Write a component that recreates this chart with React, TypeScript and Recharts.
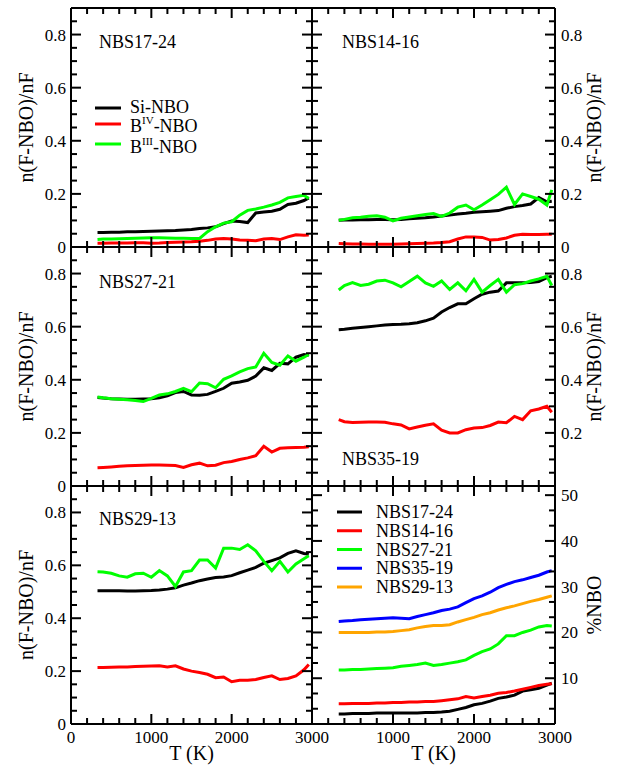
import React from 'react';
import { Line, LineChart, XAxis, YAxis } from 'recharts';

// temperatures (K) at which the curves were read
const TEMPS = [330, 400, 500, 600, 700, 800, 900, 1000, 1100, 1200, 1300, 1400, 1500, 1600, 1700, 1800, 1900, 2000, 2100, 2200, 2300, 2400, 2500, 2600, 2700, 2800, 2900, 2960];

const X_TICKS = [0, 200, 400, 600, 800, 1000, 1200, 1400, 1600, 1800, 2000, 2200, 2400, 2600, 2800, 3000];
const X_LABELS = [0, 1000, 2000, 3000];
const FRAC_TICKS = [0, 0.05, 0.1, 0.15, 0.2, 0.25, 0.3, 0.35, 0.4, 0.45, 0.5, 0.55, 0.6, 0.65, 0.7, 0.75, 0.8, 0.85, 0.9];
const FRAC_LABELS = [0, 0.2, 0.4, 0.6, 0.8];
const PCT_TICKS = [0, 10 / 3, 20 / 3, 10, 40 / 3, 50 / 3, 20, 70 / 3, 80 / 3, 30, 100 / 3, 110 / 3, 40, 130 / 3, 140 / 3, 50];
const PCT_LABELS = [10, 20, 30, 40, 50];

const FRACTION_NAMES = ['Si-NBO', 'B^IV-NBO', 'B^III-NBO'];
const FRACTION_COLORS = ['#000000', '#ff0000', '#00ff00'];

// NBS17-24
const s1724Si = [0.055, 0.055, 0.056, 0.056, 0.057, 0.057, 0.058, 0.059, 0.06, 0.061, 0.062, 0.064, 0.066, 0.07, 0.072, 0.076, 0.088, 0.098, 0.096, 0.092, 0.128, 0.132, 0.135, 0.142, 0.16, 0.165, 0.175, 0.185];
const s1724B4 = [0.014, 0.014, 0.015, 0.015, 0.015, 0.016, 0.016, 0.014, 0.015, 0.017, 0.018, 0.019, 0.02, 0.022, 0.025, 0.03, 0.032, 0.03, 0.026, 0.025, 0.024, 0.03, 0.032, 0.028, 0.038, 0.046, 0.044, 0.045];
const s1724B3 = [0.028, 0.03, 0.03, 0.031, 0.032, 0.033, 0.034, 0.035, 0.035, 0.034, 0.033, 0.033, 0.032, 0.032, 0.058, 0.076, 0.09, 0.095, 0.12, 0.138, 0.143, 0.15, 0.158, 0.168, 0.185, 0.19, 0.195, 0.183];

// NBS14-16
const s1416Si = [0.101, 0.102, 0.102, 0.103, 0.103, 0.104, 0.104, 0.103, 0.104, 0.106, 0.108, 0.11, 0.113, 0.117, 0.12, 0.124, 0.127, 0.131, 0.133, 0.135, 0.137, 0.146, 0.152, 0.156, 0.162, 0.186, 0.17, 0.172];
const s1416B4 = [0.013, 0.012, 0.011, 0.011, 0.01, 0.01, 0.01, 0.01, 0.011, 0.012, 0.013, 0.014, 0.015, 0.017, 0.02, 0.03, 0.038, 0.038, 0.036, 0.026, 0.028, 0.034, 0.044, 0.048, 0.047, 0.047, 0.048, 0.048];
const s1416B3 = [0.101, 0.104, 0.11, 0.112, 0.116, 0.118, 0.112, 0.098, 0.108, 0.113, 0.118, 0.122, 0.126, 0.115, 0.128, 0.15, 0.158, 0.14, 0.158, 0.178, 0.198, 0.225, 0.16, 0.2, 0.19, 0.18, 0.158, 0.215];

// NBS27-21
const s2721Si = [0.333, 0.331, 0.329, 0.328, 0.327, 0.327, 0.328, 0.329, 0.332, 0.34, 0.352, 0.356, 0.343, 0.342, 0.345, 0.356, 0.368, 0.387, 0.392, 0.398, 0.414, 0.445, 0.435, 0.462, 0.46, 0.485, 0.495, 0.492];
const s2721B4 = [0.069, 0.07, 0.072, 0.074, 0.076, 0.077, 0.078, 0.079, 0.079, 0.078, 0.077, 0.07, 0.08, 0.086, 0.076, 0.078, 0.088, 0.092, 0.1, 0.106, 0.114, 0.15, 0.128, 0.142, 0.144, 0.145, 0.146, 0.148];
const s2721B3 = [0.335, 0.332, 0.329, 0.327, 0.325, 0.322, 0.318, 0.33, 0.343, 0.347, 0.356, 0.368, 0.355, 0.388, 0.385, 0.37, 0.402, 0.415, 0.43, 0.442, 0.448, 0.5, 0.465, 0.455, 0.49, 0.47, 0.485, 0.495];

// NBS35-19
const s3519Si = [0.588, 0.59, 0.594, 0.597, 0.6, 0.603, 0.606, 0.608, 0.609, 0.611, 0.615, 0.622, 0.632, 0.655, 0.672, 0.686, 0.686, 0.705, 0.722, 0.73, 0.734, 0.765, 0.765, 0.765, 0.766, 0.77, 0.785, 0.79];
const s3519B4 = [0.25, 0.242, 0.239, 0.24, 0.241, 0.241, 0.24, 0.234, 0.23, 0.215, 0.222, 0.229, 0.234, 0.21, 0.2, 0.2, 0.212, 0.218, 0.22, 0.228, 0.241, 0.238, 0.262, 0.25, 0.283, 0.29, 0.3, 0.278];
const s3519B3 = [0.738, 0.755, 0.766, 0.755, 0.76, 0.772, 0.775, 0.765, 0.75, 0.77, 0.79, 0.765, 0.752, 0.772, 0.74, 0.765, 0.735, 0.778, 0.73, 0.755, 0.778, 0.73, 0.758, 0.762, 0.772, 0.78, 0.79, 0.755];

// NBS29-13
const s2913Si = [0.504, 0.504, 0.504, 0.504, 0.503, 0.503, 0.504, 0.505, 0.507, 0.51, 0.515, 0.525, 0.533, 0.542, 0.548, 0.554, 0.556, 0.561, 0.572, 0.582, 0.592, 0.608, 0.618, 0.628, 0.645, 0.655, 0.645, 0.642];
const s2913B4 = [0.214, 0.214, 0.215, 0.216, 0.216, 0.217, 0.218, 0.219, 0.22, 0.216, 0.22, 0.208, 0.2, 0.195, 0.188, 0.175, 0.178, 0.16, 0.165, 0.165, 0.168, 0.176, 0.182, 0.168, 0.172, 0.182, 0.205, 0.225];
const s2913B3 = [0.576, 0.575, 0.57, 0.56, 0.555, 0.568, 0.57, 0.555, 0.58, 0.56, 0.52, 0.575, 0.58, 0.62, 0.62, 0.59, 0.665, 0.665, 0.66, 0.678, 0.655, 0.615, 0.58, 0.615, 0.575, 0.605, 0.625, 0.636];

// %NBO per glass
const pct1724 = [2.2, 2.2, 2.3, 2.3, 2.3, 2.4, 2.4, 2.4, 2.4, 2.4, 2.4, 2.5, 2.5, 2.6, 2.8, 3.2, 3.6, 4.2, 4.5, 5.0, 5.6, 5.9, 6.3, 7.2, 7.5, 7.8, 8.5, 8.9];
const pct1416 = [4.4, 4.4, 4.5, 4.5, 4.5, 4.6, 4.6, 4.7, 4.7, 4.8, 4.8, 4.9, 4.9, 5.1, 5.3, 5.5, 6.0, 5.7, 6.0, 6.3, 6.7, 6.9, 7.2, 7.6, 8.0, 8.4, 8.7, 8.8];
const pct2721 = [11.8, 11.8, 11.9, 11.9, 12.0, 12.1, 12.2, 12.3, 12.6, 12.8, 13.0, 13.3, 12.8, 13.0, 13.3, 13.6, 14.0, 15.0, 15.8, 16.4, 17.5, 19.3, 19.3, 20.0, 20.5, 21.2, 21.5, 21.4];
const pct3519 = [22.4, 22.5, 22.6, 22.8, 22.9, 23.0, 23.1, 23.2, 23.1, 23.0, 23.5, 23.9, 24.3, 24.8, 25.1, 25.6, 26.5, 27.4, 28.0, 28.8, 29.8, 30.5, 31.1, 31.5, 32.0, 32.5, 33.2, 33.5];
const pct2913 = [20.0, 20.0, 20.0, 20.0, 20.0, 20.1, 20.1, 20.2, 20.4, 20.6, 21.0, 21.3, 21.5, 21.5, 21.7, 22.3, 22.8, 23.3, 23.9, 24.3, 24.9, 25.4, 25.8, 26.3, 26.8, 27.2, 27.7, 28.0];
const PCT_NAMES = ['NBS17-24', 'NBS14-16', 'NBS27-21', 'NBS35-19', 'NBS29-13'];
const PCT_COLORS = ['#000000', '#ff0000', '#00ff00', '#0000ff', '#ffa500'];

const W = 620;
const H = 767;
const FONT = "'Liberation Serif', 'DejaVu Serif', serif";
const AXIS_LINE = { stroke: '#000', strokeWidth: 2 };

type Series = { name: string; color: string; values: number[] };
type PanelDef = {
  title: string; tx: number; ty: number;
  left: number; right: number; top: number; bottom: number;
  domain: [number, number]; yTicks: number[]; pct?: boolean;
  leftLabels: number[]; rightLabels: number[]; xLabels: number[];
  series: Series[];
};

const fracSeries = (vals: number[][]): Series[] =>
  vals.map((v, i) => ({ name: FRACTION_NAMES[i], color: FRACTION_COLORS[i], values: v }));

const PANELS: PanelDef[] = [
  { title: 'NBS17-24', tx: 99, ty: 48, left: 71, right: 312, top: 8, bottom: 247, domain: [0, 0.9], yTicks: FRAC_TICKS,
    leftLabels: FRAC_LABELS, rightLabels: [], xLabels: [], series: fracSeries([s1724Si, s1724B4, s1724B3]) },
  { title: 'NBS14-16', tx: 342, ty: 48, left: 312, right: 555, top: 8, bottom: 247, domain: [0, 0.9], yTicks: FRAC_TICKS,
    leftLabels: [], rightLabels: FRAC_LABELS, xLabels: [], series: fracSeries([s1416Si, s1416B4, s1416B3]) },
  { title: 'NBS27-21', tx: 99, ty: 288, left: 71, right: 312, top: 247, bottom: 486, domain: [0, 0.9], yTicks: FRAC_TICKS,
    leftLabels: FRAC_LABELS, rightLabels: [], xLabels: [], series: fracSeries([s2721Si, s2721B4, s2721B3]) },
  { title: 'NBS35-19', tx: 342, ty: 465, left: 312, right: 555, top: 247, bottom: 486, domain: [0, 0.9], yTicks: FRAC_TICKS,
    leftLabels: [], rightLabels: [0.2, 0.4, 0.6, 0.8], xLabels: [], series: fracSeries([s3519Si, s3519B4, s3519B3]) },
  { title: 'NBS29-13', tx: 99, ty: 525, left: 71, right: 312, top: 486, bottom: 724, domain: [0, 0.9], yTicks: FRAC_TICKS,
    leftLabels: FRAC_LABELS, rightLabels: [], xLabels: X_LABELS, series: fracSeries([s2913Si, s2913B4, s2913B3]) },
  { title: '', tx: 0, ty: 0, left: 312, right: 555, top: 486, bottom: 724, domain: [0, 52], yTicks: PCT_TICKS, pct: true,
    leftLabels: [], rightLabels: PCT_LABELS, xLabels: [1000, 2000, 3000],
    series: [pct1724, pct1416, pct2721, pct3519, pct2913].map((v, i) => ({ name: PCT_NAMES[i], color: PCT_COLORS[i], values: v })) },
];

const near = (a: number, b: number) => Math.abs(a - b) < 1e-6;
const hasLabel = (list: number[], v: number) => list.some((l) => near(l, v));

const yMajor = (p: PanelDef, v: number) => (p.pct ? near(v / 10, Math.round(v / 10)) : near(v * 5, Math.round(v * 5)));
const yFmt = (p: PanelDef, v: number) => (p.pct ? String(Math.round(v)) : v === 0 ? '0' : v.toFixed(1));

const makeYTick = (p: PanelDef, side: 'left' | 'right') => (props: any) => {
  const y = props.y;
  const v = props.payload.value;
  const len = yMajor(p, v) ? 10 : 6;
  const x0 = side === 'left' ? p.left : p.right;
  const dir = side === 'left' ? 1 : -1;
  const labels = side === 'left' ? p.leftLabels : p.rightLabels;
  return (
    <g>
      <line x1={x0} x2={x0 + dir * len} y1={y} y2={y} stroke="#000" strokeWidth={2} />
      {hasLabel(labels, v) && (
        <text x={side === 'left' ? x0 - 5 : x0 + 6} y={y + 6} textAnchor={side === 'left' ? 'end' : 'start'}
          fontFamily={FONT} fontSize={17} fill="#000">{yFmt(p, v)}</text>
      )}
    </g>
  );
};

const makeXTick = (p: PanelDef, side: 'top' | 'bottom') => (props: any) => {
  const x = props.x;
  const v = props.payload.value;
  const len = v % 1000 === 0 ? 10 : 6;
  const y0 = side === 'bottom' ? p.bottom : p.top;
  const dir = side === 'bottom' ? -1 : 1;
  return (
    <g>
      <line x1={x} x2={x} y1={y0} y2={y0 + dir * len} stroke="#000" strokeWidth={2} />
      {side === 'bottom' && hasLabel(p.xLabels, v) && (
        <text x={x} y={p.bottom + 19} textAnchor="middle" fontFamily={FONT} fontSize={17} fill="#000">{v}</text>
      )}
    </g>
  );
};

function Panel({ p }: { p: PanelDef }) {
  const rows = TEMPS.map((t, i) => {
    const r: Record<string, number> = { t };
    p.series.forEach((s, k) => { r['s' + k] = s.values[i]; });
    return r;
  });
  // axes take 1px each, so shift the margins to keep the plot box on the panel rectangle
  const margin = { top: p.top - 1, left: p.left - 1, right: W - p.right - 1, bottom: H - p.bottom - 1 };
  return (
    <div style={{ position: 'absolute', left: 0, top: 0 }}>
      <LineChart width={W} height={H} data={rows} margin={margin}>
        <XAxis xAxisId="b" dataKey="t" type="number" domain={[0, 3000]} allowDataOverflow ticks={X_TICKS} interval={0}
          height={1} axisLine={AXIS_LINE} tickLine={false} tick={makeXTick(p, 'bottom')} />
        <XAxis xAxisId="t" orientation="top" dataKey="t" type="number" domain={[0, 3000]} allowDataOverflow ticks={X_TICKS} interval={0}
          height={1} axisLine={AXIS_LINE} tickLine={false} tick={makeXTick(p, 'top')} />
        <YAxis yAxisId="l" type="number" domain={p.domain} allowDataOverflow ticks={p.yTicks} interval={0}
          width={1} axisLine={AXIS_LINE} tickLine={false} tick={makeYTick(p, 'left')} />
        <YAxis yAxisId="r" orientation="right" type="number" domain={p.domain} allowDataOverflow ticks={p.yTicks} interval={0}
          width={1} axisLine={AXIS_LINE} tickLine={false} tick={makeYTick(p, 'right')} />
        {p.series.map((s, k) => (
          <Line key={s.name} xAxisId="b" yAxisId="l" type="linear" dataKey={'s' + k} stroke={s.color} strokeWidth={3}
            dot={false} isAnimationActive={false} />
        ))}
      </LineChart>
    </div>
  );
}

function LegendLabel({ x, y, text }: { x: number; y: number; text: string }) {
  const m = text.match(/^(.*)\^([IVX]+)(.*)$/);
  if (!m) return <text x={x} y={y} fontFamily={FONT} fontSize={18}>{text}</text>;
  return (
    <text x={x} y={y} fontFamily={FONT} fontSize={18}>
      {m[1]}
      <tspan dy={-8} fontSize={11}>{m[2]}</tspan>
      <tspan dy={8}>{m[3]}</tspan>
    </text>
  );
}

function Overlay() {
  const fracLegendY = [108, 124, 144];
  const fracTextY = [113, 132, 153];
  const pctLegend = PANELS[5].series;
  return (
    <svg width={W} height={H} style={{ position: 'absolute', left: 0, top: 0, pointerEvents: 'none' }}>
      {PANELS.filter((p) => p.title).map((p) => (
        <text key={p.title} x={p.tx} y={p.ty} fontFamily={FONT} fontSize={18}>{p.title}</text>
      ))}
      {PANELS[0].series.map((s, i) => (
        <g key={s.name}>
          <line x1={95} x2={121} y1={fracLegendY[i]} y2={fracLegendY[i]} stroke={s.color} strokeWidth={3} />
          <LegendLabel x={130} y={fracTextY[i]} text={s.name} />
        </g>
      ))}
      {pctLegend.map((s, i) => (
        <g key={s.name}>
          <line x1={337} x2={362} y1={512 + i * 18.75} y2={512 + i * 18.75} stroke={s.color} strokeWidth={3} />
          <text x={376} y={518 + i * 18.75} fontFamily={FONT} fontSize={18}>{s.name}</text>
        </g>
      ))}
      {[127.5, 366.5, 605].map((cy) => (
        <text key={'l' + cy} x={33} y={cy} transform={`rotate(-90, 33, ${cy})`} textAnchor="middle" fontFamily={FONT} fontSize={20}>
          n(F-NBO)/nF
        </text>
      ))}
      {[127.5, 366.5].map((cy) => (
        <text key={'r' + cy} x={601} y={cy} transform={`rotate(-90, 601, ${cy})`} textAnchor="middle" fontFamily={FONT} fontSize={20}>
          n(F-NBO)/nF
        </text>
      ))}
      <text x={601} y={605} transform="rotate(-90, 601, 605)" textAnchor="middle" fontFamily={FONT} fontSize={20}>%NBO</text>
      <text x={191.5} y={760} textAnchor="middle" fontFamily={FONT} fontSize={20}>T (K)</text>
      <text x={433.5} y={760} textAnchor="middle" fontFamily={FONT} fontSize={20}>T (K)</text>
    </svg>
  );
}

export default function App() {
  return (
    <div style={{ position: 'absolute', left: 0, top: 0, width: W, height: H, background: '#fff' }}>
      {PANELS.map((p, i) => <Panel key={i} p={p} />)}
      <Overlay />
    </div>
  );
}
